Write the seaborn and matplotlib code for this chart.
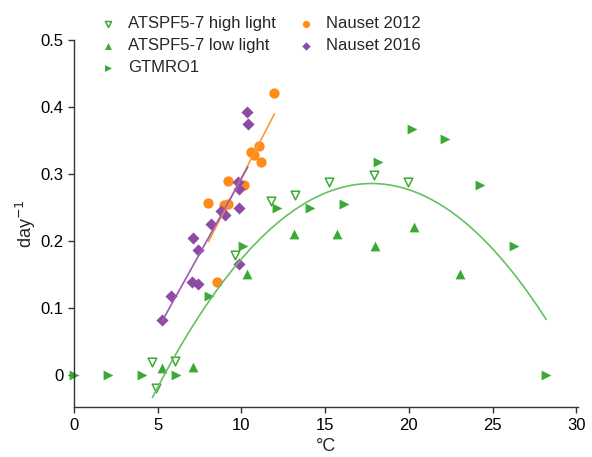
import numpy as np
import pandas as pd
import seaborn as sns
import matplotlib.pyplot as plt
from matplotlib.ticker import FuncFormatter

# ATSPF5-7 high light (open down triangles)
hl_x = [4.68, 4.88, 6.04, 9.62, 11.78, 13.17, 15.2, 17.93, 19.92]
hl_y = [0.020, -0.019, 0.021, 0.179, 0.259, 0.269, 0.288, 0.298, 0.288]

# ATSPF5-7 low light (up triangles)
ll_x = [5.24, 7.09, 10.36, 13.15, 15.7, 17.99, 20.32, 23.07]
ll_y = [0.011, 0.012, 0.151, 0.210, 0.210, 0.192, 0.220, 0.151]

# GTMRO1 (right triangles)
gt_x = [0.0, 2.05, 4.05, 6.1, 8.09, 10.08, 12.1, 14.1, 16.14, 18.13, 20.18, 22.18, 24.23, 26.26, 28.2]
gt_y = [0.0, 0.0, 0.0, 0.0, 0.118, 0.193, 0.249, 0.249, 0.255, 0.317, 0.367, 0.352, 0.283, 0.193, 0.0]

# Nauset 2012
n12_x = [8.03, 8.53, 8.98, 9.22, 9.22, 10.14, 10.58, 10.76, 11.02, 11.16, 11.97]
n12_y = [0.257, 0.138, 0.254, 0.255, 0.289, 0.283, 0.333, 0.328, 0.342, 0.318, 0.420]

# Nauset 2016
n16_x = [5.24, 5.8, 7.03, 7.09, 7.39, 7.43, 8.19, 8.79, 8.99, 9.82, 9.84, 9.88, 9.88, 10.32, 10.38]
n16_y = [0.082, 0.118, 0.138, 0.205, 0.186, 0.136, 0.225, 0.245, 0.239, 0.288, 0.278, 0.249, 0.166, 0.392, 0.374]

green = '#3aaa35'
orange = '#ff8c1a'
purple = '#8e4ba6'

sns.set_style('ticks')
plt.rcParams['font.family'] = ['Liberation Sans', 'DejaVu Sans']

fig = plt.figure(figsize=(5.92, 4.57), dpi=100)
ax = fig.add_axes([0.125, 0.109, 0.8514, 0.804])

# fitted curves
g_df = pd.DataFrame({'x': hl_x + ll_x + gt_x, 'y': hl_y + ll_y + gt_y})
g_df = g_df[g_df['x'] >= 4.6]
sns.regplot(data=g_df, x='x', y='y', order=2, scatter=False, ci=None, truncate=True,
            line_kws={'color': '#62c262', 'lw': 1.2}, ax=ax)
sns.regplot(x=n12_x, y=n12_y, scatter=False, ci=None, truncate=True,
            line_kws={'color': '#ff9a33', 'lw': 1.2}, ax=ax)
sns.regplot(x=n16_x, y=n16_y, scatter=False, ci=None, truncate=True,
            line_kws={'color': '#9b5cb4', 'lw': 1.2}, ax=ax)

sns.scatterplot(x=hl_x, y=hl_y, marker='v', s=38, facecolor='white', edgecolor=green,
                linewidth=1.1, label='ATSPF5-7 high light', ax=ax, clip_on=False)
sns.scatterplot(x=ll_x, y=ll_y, marker='^', s=50, color=green, linewidth=0,
                label='ATSPF5-7 low light', ax=ax, clip_on=False)
sns.scatterplot(x=gt_x, y=gt_y, marker='>', s=50, color=green, linewidth=0,
                label='GTMRO1', ax=ax, clip_on=False)
sns.scatterplot(x=n12_x, y=n12_y, marker='o', s=55, color=orange, linewidth=0,
                label='Nauset 2012', ax=ax, clip_on=False)
sns.scatterplot(x=n16_x, y=n16_y, marker='D', s=38, color=purple, linewidth=0,
                label='Nauset 2016', ax=ax, clip_on=False)

ax.set_xlim(0, 30.1)
ax.set_ylim(-0.048, 0.5)
ax.set_xticks([0, 5, 10, 15, 20, 25, 30])
ax.set_yticks([0, 0.1, 0.2, 0.3, 0.4, 0.5])
ax.yaxis.set_major_formatter(FuncFormatter(lambda v, p: '0' if v == 0 else f'{v:.1f}'))
ax.tick_params(labelsize=12, length=4, width=1, colors='#333333', labelcolor='black')
for s in ['left', 'bottom']:
    ax.spines[s].set_color('#333333')
    ax.spines[s].set_linewidth(1)
sns.despine(ax=ax)

ax.set_xlabel('°C', fontsize=13)
ax.set_ylabel('day$^{-1}$', fontsize=13, labelpad=2)

ax.legend(ncol=2, frameon=False, fontsize=12, loc='upper left',
          bbox_to_anchor=(0.14, 0.998), bbox_transform=fig.transFigure,
          markerscale=0.7, handletextpad=0.6, columnspacing=1.2,
          labelspacing=0.42, handlelength=1.2)

plt.savefig('out.png', dpi=100)
